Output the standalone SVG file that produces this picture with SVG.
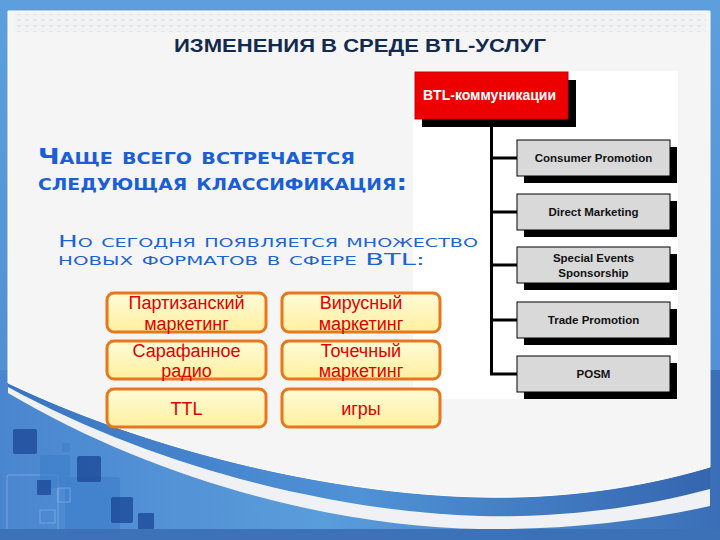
<svg xmlns="http://www.w3.org/2000/svg" width="720" height="540" viewBox="0 0 720 540">
<defs>
  <linearGradient id="bg" x1="0" y1="0" x2="1" y2="0">
    <stop offset="0" stop-color="#4a86cf"/>
    <stop offset="0.45" stop-color="#5a9ddb"/>
    <stop offset="1" stop-color="#3a6fb8"/>
  </linearGradient>
  <linearGradient id="band" x1="0" y1="0" x2="1" y2="0">
    <stop offset="0" stop-color="#3a74c2"/>
    <stop offset="0.5" stop-color="#4f92d6"/>
    <stop offset="1" stop-color="#3566b0"/>
  </linearGradient>
  <linearGradient id="frame" x1="0" y1="0" x2="0" y2="1">
    <stop offset="0" stop-color="#5d9fdc"/>
    <stop offset="1" stop-color="#4c8ad0"/>
  </linearGradient>
  <linearGradient id="yel" x1="0" y1="0" x2="0" y2="1">
    <stop offset="0" stop-color="#fffbd9"/>
    <stop offset="1" stop-color="#fff09e"/>
  </linearGradient>
  <pattern id="dots" width="8" height="6" patternUnits="userSpaceOnUse">
    <rect width="8" height="6" fill="#f1f2f4"/>
    <rect x="1" y="1" width="4" height="2" fill="#e4e6ea"/>
  </pattern>
  <style>
    .ybox{fill:url(#yel);stroke:#e8761a;stroke-width:3}
    .ytxt{font-family:"Liberation Sans",Arial,sans-serif;font-size:18px;fill:#e00000;text-anchor:middle}
    .gbox{fill:#d9d9d9;stroke:#000;stroke-width:1}
    .shadow{fill:#000}
    .gtxt{font-family:"Liberation Sans",Arial,sans-serif;font-weight:bold;font-size:11.5px;fill:#111;text-anchor:middle}
    .conn{stroke:#000;stroke-width:3;fill:none}
    .sq{fill:#1a4696;opacity:0.75}
    .sq2{fill:#3f7fcc;opacity:0.7}
    .sqo{fill:none;stroke:#8fb8e8;stroke-width:1;opacity:0.6}
    .head{font-family:"DejaVu Sans",Verdana,sans-serif;font-weight:bold;font-variant:small-caps;fill:#1b5fd6}
    .sub{font-family:"DejaVu Sans",Verdana,sans-serif;font-variant:small-caps;fill:#1f63d0}
  </style>
</defs>

<!-- background / frame -->
<rect x="0" y="0" width="720" height="540" fill="url(#frame)"/>
<rect x="0" y="370" width="720" height="170" fill="url(#bg)"/>

<!-- decorative squares -->
<g id="decor">
  <rect class="sqo" x="7" y="475" width="51" height="62" rx="2"/>
  <rect class="sq2" x="65" y="477" width="55" height="60" rx="3"/>
  <rect class="sq2" x="40" y="455" width="30" height="33" rx="2"/>
  <rect class="sq" x="13" y="429" width="24" height="25" rx="2"/>
  <rect class="sq2" x="62" y="443" width="8" height="9"/>
  <rect class="sq" x="77" y="456" width="24" height="26" rx="2"/>
  <rect class="sq" x="37" y="480" width="14" height="15" rx="1"/>
  <rect class="sq" x="111" y="497" width="22" height="26" rx="2"/>
  <rect class="sq" x="138" y="513" width="16" height="16" rx="1"/>
  <rect class="sqo" x="40" y="510" width="15" height="13"/>
  <rect class="sqo" x="58" y="488" width="12" height="14"/>
</g>

<!-- white stripe, blue band, panel -->
<path d="M8,11 H710 V506 C640,522 560,530 480,529 C340,527 160,483 8,393 Z" fill="#eff1f5"/>
<path d="M8,11 H710 V489 C640,508 560,518 480,516 C340,512 160,470 8,387 Z" fill="url(#band)"/>
<path d="M8,11 H710 V467 C640,488 560,499 480,497 C340,494 160,455 8,383 Z" fill="#f5f5f6" stroke="#ffffff" stroke-width="1"/>
<rect x="14" y="14" width="692" height="18" fill="url(#dots)"/>
<rect x="0" y="529" width="720" height="11" fill="#3c70b6" opacity="0.95"/>

<!-- chart background -->
<rect x="413" y="71" width="265" height="328" fill="#ffffff"/>

<!-- title -->
<text x="174" y="52" font-family="Liberation Sans, Arial, sans-serif" font-weight="bold" font-size="18" fill="#132a4e" textLength="372" lengthAdjust="spacingAndGlyphs">ИЗМЕНЕНИЯ В СРЕДЕ BTL-УСЛУГ</text>

<!-- left texts -->
<text class="head" x="38" y="164" font-size="21" textLength="317" lengthAdjust="spacingAndGlyphs">Чаще всего встречается</text>
<text class="head" x="38" y="190" font-size="21" textLength="369" lengthAdjust="spacingAndGlyphs">следующая классификация:</text>
<text class="sub" x="58" y="247" font-size="16.5" textLength="420" lengthAdjust="spacingAndGlyphs">Но сегодня появляется множество</text>
<text class="sub" x="58" y="265" font-size="16.5" textLength="367" lengthAdjust="spacingAndGlyphs">новых форматов в сфере BTL:</text>

<!-- connectors -->
<g id="connectors">
  <path class="conn" d="M491.5,127 V374"/>
  <path class="conn" d="M491.5,158 H517"/>
  <path class="conn" d="M491.5,212 H517"/>
  <path class="conn" d="M491.5,265 H517"/>
  <path class="conn" d="M491.5,320 H517"/>
  <path class="conn" d="M490,374 H517"/>
</g>

<!-- chart nodes -->
<g id="btl">
  <rect class="shadow" x="422" y="80" width="154" height="47"/>
  <rect x="415" y="72" width="153" height="47" fill="#ee0000" stroke="#c80000" stroke-width="1"/>
  <text x="423" y="100" font-family="Liberation Sans, Arial, sans-serif" font-weight="bold" font-size="14" fill="#ffffff">BTL-коммуникации</text>
</g>
<g id="consumer">
  <rect class="shadow" x="524" y="147" width="153" height="36"/>
  <rect class="gbox" x="517" y="140" width="153" height="36"/>
  <text class="gtxt" x="593.5" y="162">Consumer Promotion</text>
</g>
<g id="direct">
  <rect class="shadow" x="524" y="201" width="153" height="36"/>
  <rect class="gbox" x="517" y="194" width="153" height="36"/>
  <text class="gtxt" x="593.5" y="216">Direct Marketing</text>
</g>
<g id="special">
  <rect class="shadow" x="524" y="254" width="153" height="36"/>
  <rect class="gbox" x="517" y="247" width="153" height="36"/>
  <text class="gtxt" x="593.5" y="262">Special Events</text>
  <text class="gtxt" x="593.5" y="277">Sponsorship</text>
</g>
<g id="trade">
  <rect class="shadow" x="524" y="309" width="153" height="36"/>
  <rect class="gbox" x="517" y="302" width="153" height="36"/>
  <text class="gtxt" x="593.5" y="324">Trade Promotion</text>
</g>
<g id="posm">
  <rect class="shadow" x="524" y="363" width="153" height="36"/>
  <rect class="gbox" x="517" y="356" width="153" height="36"/>
  <text class="gtxt" x="593.5" y="378">POSM</text>
</g>

<!-- yellow format boxes -->
<g id="partisan">
  <rect class="ybox" x="107" y="293" width="159" height="39" rx="7"/>
  <text class="ytxt" x="186.5" y="309">Партизанский</text>
  <text class="ytxt" x="186.5" y="330">маркетинг</text>
</g>
<g id="viral">
  <rect class="ybox" x="282" y="293" width="158" height="39" rx="7"/>
  <text class="ytxt" x="361" y="309">Вирусный</text>
  <text class="ytxt" x="361" y="330">маркетинг</text>
</g>
<g id="wom">
  <rect class="ybox" x="107" y="341" width="159" height="38" rx="7"/>
  <text class="ytxt" x="186.5" y="357">Сарафанное</text>
  <text class="ytxt" x="186.5" y="377">радио</text>
</g>
<g id="point">
  <rect class="ybox" x="282" y="341" width="158" height="38" rx="7"/>
  <text class="ytxt" x="361" y="357">Точечный</text>
  <text class="ytxt" x="361" y="377">маркетинг</text>
</g>
<g id="ttl">
  <rect class="ybox" x="107" y="389" width="159" height="38" rx="7"/>
  <text class="ytxt" x="186.5" y="415">TTL</text>
</g>
<g id="games">
  <rect class="ybox" x="282" y="389" width="158" height="38" rx="7"/>
  <text class="ytxt" x="361" y="415">игры</text>
</g>
</svg>
